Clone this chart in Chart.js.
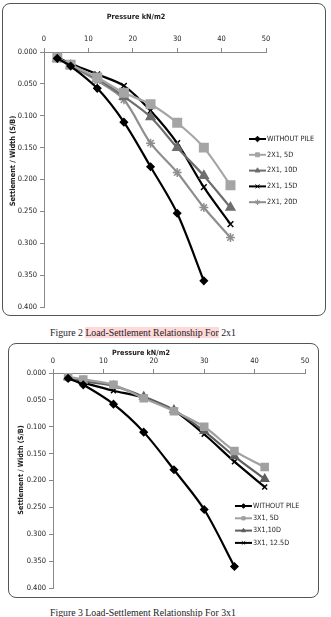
<!DOCTYPE html>
<html>
<head>
<meta charset="utf-8">
<script src="https://cdn.jsdelivr.net/npm/chart.js@4.4.1/dist/chart.umd.min.js"></script>
<style>
  body { margin: 0; background: #fff; width: 331px; height: 617px; position: relative; overflow: hidden; }
  .box { position: absolute; border: 1px solid #555; border-radius: 8px; background: #fff; }
  .box canvas { position: absolute; left: 0; top: 0; }
  .cap { position: absolute; left: 50px; font-family: "Liberation Serif", "DejaVu Serif", serif; font-size: 9.8px; color: #222; white-space: nowrap; }
  .cap span { background: rgba(255, 170, 170, 0.45); }
</style>
</head>
<body>

<div class="box" id="box1" style="left:2px; top:3px; width:322px; height:311px;">
  <canvas id="chart1" width="322" height="311"></canvas>
</div>
<div class="cap" style="top:327px;">Figure 2 <span>Load-Settlement Relationship For</span> 2x1</div>

<div class="box" id="box2" style="left:8px; top:343px; width:309px; height:253px;">
  <canvas id="chart2" width="309" height="253"></canvas>
</div>
<div class="cap" style="top:607px;">Figure 3 Load-Settlement Relationship For 3x1</div>

<script>
// pressure steps (kN/m2)
const pressure = [3, 6, 12, 18, 24, 30, 36, 42];
const yTicks = ['0.000', '0.050', '0.100', '0.150', '0.200', '0.250', '0.300', '0.350', '0.400'];
const xTicks = [0, 10, 20, 30, 40, 50];

// Figure 2 : 2x1 group, settlement / width
const withoutPile = [0.010, 0.022, 0.057, 0.110, 0.180, 0.253, 0.359];
const g2x1_5D  = [0.009, 0.020, 0.040, 0.064, 0.082, 0.111, 0.150, 0.209];
const g2x1_10D = [0.010, 0.021, 0.042, 0.070, 0.102, 0.150, 0.194, 0.244];
const g2x1_15D = [0.008, 0.018, 0.035, 0.053, 0.092, 0.143, 0.212, 0.270];
const g2x1_20D = [0.010, 0.022, 0.045, 0.075, 0.143, 0.189, 0.244, 0.291];

// Figure 3 : 3x1 group
const withoutPile3 = [0.010, 0.022, 0.058, 0.110, 0.180, 0.254, 0.360];
const g3x1_5D   = [0.007, 0.012, 0.022, 0.047, 0.071, 0.100, 0.145, 0.175];
const g3x1_10D  = [0.008, 0.015, 0.024, 0.044, 0.069, 0.108, 0.155, 0.197];
const g3x1_125D = [0.010, 0.018, 0.033, 0.046, 0.070, 0.114, 0.165, 0.212];

const FONT = '"Liberation Sans Narrow", "DejaVu Sans Condensed", "Open Sans", sans-serif';

function pts(vals) {
  return vals.map((v, i) => ({ x: pressure[i], y: v }));
}

function ds(label, vals, color, style, r) {
  return {
    label: label,
    data: pts(vals),
    borderColor: color,
    backgroundColor: color,
    pointStyle: style,
    pointRadius: r,
    pointBorderWidth: 1.5,
    borderWidth: 2.2,
    tension: 0.3
  };
}

// legend + axis titles drawn inside the plot, like the excel charts
const insideLegend = {
  id: 'insideLegend',
  afterDraw(chart, args, o) {
    const ctx = chart.ctx;
    ctx.save();
    chart.data.datasets.forEach((d, i) => {
      const y = o.y + i * o.step;
      ctx.strokeStyle = d.borderColor;
      ctx.fillStyle = d.borderColor;
      ctx.lineWidth = 2;
      ctx.beginPath();
      ctx.moveTo(o.x, y);
      ctx.lineTo(o.x + o.len, y);
      ctx.stroke();
      ctx.lineWidth = 1;
      Chart.helpers.drawPoint(ctx, { pointStyle: d.pointStyle, radius: o.r, rotation: 0, borderWidth: 1 }, o.x + o.len / 2, y);
      ctx.fillStyle = '#222';
      ctx.font = o.size + 'px ' + FONT;
      ctx.textBaseline = 'middle';
      ctx.textAlign = 'left';
      ctx.fillText(d.label, o.x + o.len + 1, y);
    });
    // axis titles
    ctx.font = 'bold ' + o.size + 'px ' + FONT;
    ctx.fillStyle = '#222';
    ctx.textAlign = 'center';
    ctx.fillText('Pressure kN/m2', o.xt[0], o.xt[1]);
    ctx.translate(o.yt[0], o.yt[1]);
    ctx.rotate(-Math.PI / 2);
    ctx.fillText('Settlement / Width (S/B)', 0, 0);
    ctx.restore();
  }
};

function makeChart(id, datasets, lay) {
  return new Chart(document.getElementById(id), {
    type: 'line',
    data: { datasets: datasets },
    options: {
      responsive: false,
      animation: false,
      layout: { padding: { left: 0, top: 0, right: lay.right, bottom: lay.bottom } },
      plugins: {
        legend: { display: false },
        tooltip: { enabled: false },
        insideLegend: lay.legend
      },
      scales: {
        x: {
          type: 'linear',
          position: 'top',
          min: xTicks[0],
          max: xTicks[xTicks.length - 1],
          afterBuildTicks: s => { s.ticks = xTicks.map(v => ({ value: v })); },
          afterFit: s => { s.height = lay.xh; },
          grid: { drawOnChartArea: false, tickLength: 4, color: '#888' },
          border: { color: '#888' },
          ticks: { padding: lay.xpad, color: '#222', font: { family: FONT, size: 7.5 } }
        },
        y: {
          type: 'linear',
          reverse: true,
          min: 0,
          max: 0.4,
          afterBuildTicks: s => { s.ticks = yTicks.map(v => ({ value: parseFloat(v) })); },
          afterFit: s => { s.width = lay.yw; s.paddingTop = 0; s.paddingBottom = 0; },
          grid: { drawOnChartArea: false, tickLength: 4, color: '#888' },
          border: { color: '#888' },
          ticks: {
            padding: 3, color: '#222', font: { family: FONT, size: 7.5 },
            callback: v => v.toFixed(3)
          }
        }
      }
    },
    plugins: [insideLegend]
  });
}

makeChart('chart1', [
  ds('WITHOUT PILE', withoutPile, '#000000', 'rectRot', 3.5),
  ds('2X1, 5D', g2x1_5D, '#a5a5a5', 'rect', 6),
  ds('2X1, 10D', g2x1_10D, '#6e6e6e', 'triangle', 5),
  ds('2X1, 15D', g2x1_15D, '#000000', 'crossRot', 4),
  ds('2X1, 20D', g2x1_20D, '#8e8e8e', 'star', 4.5)
], {
  right: 59, bottom: 8, xh: 48, yw: 41, xpad: 4,
  legend: { x: 246, y: 135, step: 15.8, len: 17, r: 2.8, size: 7.3, xt: [133, 13], yt: [10, 157] }
});

makeChart('chart2', [
  ds('WITHOUT PILE', withoutPile3, '#000000', 'rectRot', 3.5),
  ds('3X1, 5D', g3x1_5D, '#a0a0a0', 'rect', 5),
  ds('3X1,10D', g3x1_10D, '#5e5e5e', 'triangle', 4.5),
  ds('3X1, 12.5D', g3x1_125D, '#000000', 'crossRot', 3.5)
], {
  right: 13, bottom: 9, xh: 29, yw: 44, xpad: 3,
  legend: { x: 226, y: 162, step: 12.3, len: 17, r: 2.3, size: 7.2, xt: [132, 9], yt: [12, 126] }
});
</script>
</body>
</html>
